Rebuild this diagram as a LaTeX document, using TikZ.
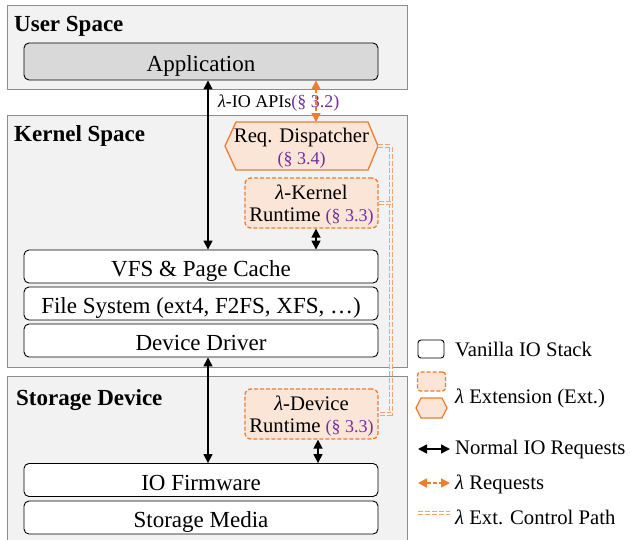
\documentclass[tikz,border=0pt]{standalone}
\usepackage{fontspec}
\setmainfont{Liberation Serif}
\usetikzlibrary{arrows.meta,calc}
\definecolor{lorange}{HTML}{ED7D31}
\definecolor{lfill}{HTML}{FBE5D6}
\definecolor{lpurple}{HTML}{7030A0}
\definecolor{regionfill}{HTML}{F2F2F2}
\definecolor{regionline}{HTML}{8C8C8C}
\definecolor{appfill}{HTML}{D9D9D9}
\definecolor{ctrlc}{HTML}{F2A46E}
\newcommand{\sect}[1]{{\color{lpurple}\fontsize{18}{20}\selectfont #1}}
\newcommand{\lam}{{\itshape λ}}
\begin{document}
\begin{tikzpicture}[x=1pt,y=-1pt,
  region/.style={draw=regionline, fill=regionfill, line width=1.3pt, inner sep=0pt, anchor=north west},
  layer/.style={draw=black, fill=white, rounded corners=5pt, line width=0.9pt, minimum width=354pt, minimum height=33pt, inner sep=0pt, text height=20pt, text depth=0pt, font=\fontsize{23}{26}\selectfont},
  ext/.style={draw=lorange, fill=lfill, dash pattern=on 4pt off 2pt, rounded corners=6pt, line width=1.3pt, minimum width=133pt, minimum height=50pt, inner sep=0pt, align=center, font=\fontsize{20.7}{22}\selectfont},
  hexa/.style={draw=lorange, fill=lfill, line width=1.3pt, line join=miter},
  title/.style={anchor=west, font=\bfseries\fontsize{23}{26}\selectfont, inner sep=0pt},
  legtext/.style={anchor=west, inner sep=0pt, font=\fontsize{20.7}{24}\selectfont},
  narrow/.style={line width=1.6pt, {Triangle[length=9pt,width=9pt]}-{Triangle[length=9pt,width=9pt]}},
  larrow/.style={draw=lorange, line width=1.6pt, dash pattern=on 4pt off 2pt, {Triangle[length=9pt,width=9pt]}-{Triangle[length=9pt,width=9pt]}},
  ctrl/.style={draw=ctrlc, line width=0.9pt, double=regionfill, double distance=1.8pt, dash pattern=on 5pt off 2pt}
]
\useasboundingbox (0,0) rectangle (630,539);
% regions
\node[region, minimum width=400pt, minimum height=84pt] (user) at (7,5) {};
\node[region, minimum width=400pt, minimum height=252pt] (kernel) at (7,115) {};
\node[region, minimum width=400pt, minimum height=170pt] (storage) at (7,376) {};
\node[title] (usert) at (14,26) {User Space};
\node[title] (kernelt) at (14,136) {Kernel Space};
\node[title] (storaget) at (16,400) {Storage Device};
% layers
\node[layer, fill=appfill, minimum height=37pt] (app) at (201,61.5) {Application};
\node[layer] (vfs) at (201,266.5) {VFS \& Page Cache};
\node[layer] (fs) at (201,303.5) {File System (ext4, F2FS, XFS, …)};
\node[layer] (drv) at (201,340.5) {Device Driver};
\node[layer] (fw) at (201,480) {IO Firmware};
\node[layer] (media) at (201,517.5) {Storage Media};
% extensions
\draw[hexa] (225,146) -- (236,122) -- (368,122) -- (378,146) -- (368,170) -- (236,170) -- cycle;
\coordinate (disptip) at (378,146);
\coordinate (disptop) at (316,122);
\node[align=center, inner sep=0pt, font=\fontsize{20.7}{22}\selectfont] (disp) at (301.5,148.5) {Req. Dispatcher\\\sect{(§ 3.4)}};
\node[ext] (krt) at (311.5,203) {};
\node[align=center, inner sep=0pt, font=\fontsize{20.7}{21.5}\selectfont] (krtt) at (311.5,205) {\lam-Kernel\\Runtime \sect{(§ 3.3)}};
\node[ext] (drt) at (311.5,414) {};
\node[align=center, inner sep=0pt, font=\fontsize{20.7}{22.5}\selectfont] (drtt) at (311.5,416) {\lam-Device\\Runtime \sect{(§ 3.3)}};
% label
\node[anchor=west, inner sep=0pt, font=\fontsize{18}{20}\selectfont] (apis) at (218,103) {\lam-IO APIs\sect{(§ 3.2)}};
% arrows
\coordinate (ax) at (208,0);
\coordinate (kx) at (316,0);
\coordinate (dx) at (318,0);
\coordinate (cx) at (391,0);
\draw[narrow] (app.south -| ax) -- (vfs.north -| ax);
\draw[narrow] (drv.south -| ax) -- (fw.north -| ax);
\draw[narrow] (krt.south -| kx) -- (vfs.north -| kx);
\draw[narrow] (drt.south -| dx) -- (fw.north -| dx);
\draw[larrow] (app.south -| disptop) -- (disptop);
% control path
\draw[ctrl] (disptip) -- (disptip -| cx) |- (drt.east);
\draw[ctrl] (krt.east) -- (krt.east -| cx);
% legend
\node[draw=black, fill=white, rounded corners=3pt, line width=0.9pt, minimum width=26pt, minimum height=18pt, inner sep=0pt] (lvan) at (431,349) {};
\node[legtext] (lvant) at (455,349) {Vanilla IO Stack};
\node[draw=lorange, fill=lfill, dash pattern=on 4pt off 2pt, rounded corners=3pt, line width=1.3pt, minimum width=28pt, minimum height=19pt, inner sep=0pt] (lext) at (431.5,381.5) {};
\draw[hexa] (416,408) -- (421,398) -- (442,398) -- (447,408) -- (442,418) -- (421,418) -- cycle;
\node[legtext] (lextt) at (455,398) {\lam{} Extension (Ext.)};
\coordinate (la1) at (418,449);
\coordinate (la2) at (450,449);
\draw[narrow] (la1) -- (la2);
\node[legtext] (lnt) at (455,450) {Normal IO Requests};
\coordinate (lb1) at (418,483);
\coordinate (lb2) at (450,483);
\draw[larrow] (lb1) -- (lb2);
\node[legtext] (llt) at (455,484) {\lam{} Requests};
\coordinate (lc1) at (418,513);
\coordinate (lc2) at (450,513);
\draw[ctrl, double=white] (lc1) -- (lc2);
\node[legtext] (lct) at (455,517) {\lam{} Ext. Control Path};
\end{tikzpicture}
\end{document}
